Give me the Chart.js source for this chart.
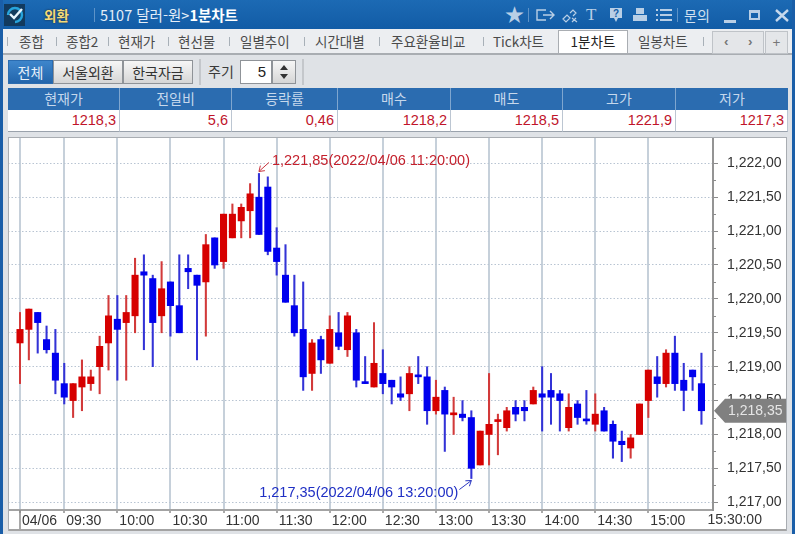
<!DOCTYPE html>
<html lang="ko">
<head>
<meta charset="utf-8">
<title>5107 달러-원 1분차트</title>
<script src="https://cdn.jsdelivr.net/npm/chart.js@4"></script>
<style>
  html, body { margin: 0; padding: 0; }
  body { width: 795px; height: 534px; overflow: hidden; position: relative; background: #dfe2e6;
         font-family: "Noto Sans CJK KR", sans-serif; font-size: 13.5px; color: #3a3a3a; }
  .abs { position: absolute; white-space: nowrap; }
  .frameL { left: 0; top: 0; width: 3px; height: 534px; background: #1a5ea8; }
  .frameR { left: 792px; top: 0; width: 3px; height: 534px; background: #1a5ea8; }
  .titlebar { left: 0; top: 0; width: 795px; height: 29px; background: linear-gradient(#1c6ab4, #125ca6); color: #fff; }
  .tabstrip { left: 3px; top: 29px; width: 789px; height: 25px; background: #eceef1; border-bottom: 2px solid #a9adb2; box-sizing: border-box; height: 26px; }
  .tab { top: 30px; line-height: 22px; color: #4a4a4a; }
  .sep { top: 37px; width: 1px; height: 9px; background: #a8b0b8; }
  .active { left: 558px; top: 30px; width: 70px; height: 23px; background: #fff; border: 1px solid #a9adb2; border-bottom: none; box-sizing: border-box; text-align: center; line-height: 21px; color: #222; }
  .btn { top: 60px; height: 24px; line-height: 22px; text-align: center; box-sizing: border-box; border: 1px solid #8f9398; background: linear-gradient(#f6f6f6, #d6d6d6); font-size: 14px; color: #333; }
  .vsep { top: 59px; width: 2px; height: 26px; background: #c4c7cb; }
  .hd { top: 88px; height: 22px; line-height: 21px; background: #2b6cb0; color: #c6d8ec; text-align: center; box-sizing: border-box; border-right: 1px solid #7fa6cf; font-size: 14px; }
  .val { top: 110px; height: 22px; line-height: 21px; background: #fff; color: #c0142a; text-align: right; padding-right: 3px; box-sizing: border-box; border-right: 1px solid #bcc6d2; border-bottom: 1px solid #9aa2ac;
         font-family: "Liberation Sans", sans-serif; font-size: 14.5px; }
  .ic { top: 4px; color: #b9cfe6; font-size: 15px; line-height: 22px; }
  #wrap { position: absolute; left: 8px; top: 137px; width: 779px; height: 394px; background: #fff; }
  #wrap canvas { display: block; }
</style>
</head>
<body>
<div class="abs titlebar"></div>
<svg class="abs" style="left:4px;top:4px" width="21" height="22">
  <rect x="0" y="0" width="21" height="22" fill="#123a5e"/>
  <path d="M4 11a7 7 0 1 1 7 7" fill="none" stroke="#27a4dc" stroke-width="2.4"/>
  <path d="M6 10l4 4 8-9" fill="none" stroke="#e6f4ff" stroke-width="2.4"/>
</svg>
<div class="abs" style="left:44px;top:4px;line-height:22px;font-weight:700;color:#f4dc7a;text-shadow:0 0 2px #222">외환</div>
<div class="abs" style="left:94px;top:8px;width:1px;height:14px;background:#5d93c8"></div>
<div class="abs" style="left:100px;top:4px;line-height:22px;color:#e4eef8;font-size:14.5px">5107 달러-원&gt;<b style="color:#fff">1분차트</b></div>
<div class="abs ic" style="left:505px;top:3px;font-size:19px">★</div>
<div class="abs" style="left:528px;top:8px;width:1px;height:14px;background:#5d93c8"></div>
<svg class="abs" style="left:535px;top:7px" width="22" height="16" fill="none" stroke="#b9cfe6" stroke-width="1.4">
  <path d="M11 3H2v10h9M8 8h11M15 4l4 4-4 4"/>
</svg>
<svg class="abs" style="left:561px;top:7px" width="18" height="16" fill="none" stroke="#b9cfe6" stroke-width="1.2">
  <path d="M2 12l4-4 3 3-4 4zM9 6l3-3 3 3-3 3M11 11l5 4M15 11l-4 4"/>
</svg>
<div class="abs ic" style="left:586px;font-family:'Liberation Serif',serif;font-size:17px">T</div>
<svg class="abs" style="left:608px;top:7px" width="16" height="17">
  <path d="M2 1h12v10H10l-2 4-2-4H2z" fill="#b9cfe6"/>
  <text x="8" y="10" font-size="10" font-weight="700" text-anchor="middle" fill="#125ca6" font-family="Liberation Sans">?</text>
</svg>
<svg class="abs" style="left:632px;top:7px" width="16" height="16" fill="#b9cfe6">
  <rect x="4" y="1" width="8" height="6"/><rect x="1" y="8" width="14" height="6"/>
</svg>
<svg class="abs" style="left:656px;top:8px" width="16" height="14" fill="#b9cfe6">
  <rect x="0" y="1" width="2" height="2"/><rect x="4" y="1" width="12" height="2"/>
  <rect x="0" y="6" width="2" height="2"/><rect x="4" y="6" width="12" height="2"/>
  <rect x="0" y="11" width="2" height="2"/><rect x="4" y="11" width="12" height="2"/>
</svg>
<div class="abs" style="left:677px;top:8px;width:1px;height:14px;background:#5d93c8"></div>
<div class="abs ic" style="left:684px;font-size:14px;color:#d2e1f0">문의</div>
<div class="abs" style="left:724px;top:20px;width:12px;height:3px;background:#b9cfe6"></div>
<div class="abs" style="left:749px;top:10px;width:11px;height:10px;border:2px solid #b9cfe6;border-top-width:3px;box-sizing:border-box"></div>
<svg class="abs" style="left:775px;top:9px" width="14" height="13" stroke="#c6d8ec" stroke-width="2.4"><path d="M1 1l12 11M13 1L1 12"/></svg>

<div class="abs tabstrip"></div>
<div class="abs sep" style="left:7px"></div><div class="abs tab" style="left:19px">종합</div>
<div class="abs sep" style="left:56px"></div><div class="abs tab" style="left:66px">종합2</div>
<div class="abs sep" style="left:108px"></div><div class="abs tab" style="left:118px">현재가</div>
<div class="abs sep" style="left:168px"></div><div class="abs tab" style="left:178px">현선물</div>
<div class="abs sep" style="left:229px"></div><div class="abs tab" style="left:240px">일별추이</div>
<div class="abs sep" style="left:304px"></div><div class="abs tab" style="left:315px">시간대별</div>
<div class="abs sep" style="left:379px"></div><div class="abs tab" style="left:391px">주요환율비교</div>
<div class="abs sep" style="left:483px"></div><div class="abs tab" style="left:493px">Tick차트</div>
<div class="abs active">1분차트</div>
<div class="abs tab" style="left:638px">일봉차트</div>
<div class="abs sep" style="left:703px"></div>
<div class="abs" style="left:712px;top:31px;width:52px;height:23px;box-sizing:border-box;border:1px solid #bfc3c8;background:#e4e6e9"></div>
<div class="abs" style="left:724px;top:31px;line-height:22px;color:#777;font-family:'Liberation Sans';font-weight:700">‹</div>
<div class="abs" style="left:748px;top:31px;line-height:22px;color:#777;font-family:'Liberation Sans';font-weight:700">›</div>
<div class="abs" style="left:765px;top:31px;width:23px;height:23px;box-sizing:border-box;border:1px solid #bfc3c8;background:#e4e6e9;text-align:center;line-height:21px;color:#777;font-family:'Liberation Sans'">+</div>

<div class="abs btn" style="left:8px;width:45px;background:linear-gradient(#3e86cc,#2265ab);color:#e8f1fa;border-color:#2b6cb0">전체</div>
<div class="abs btn" style="left:53px;width:70px">서울외환</div>
<div class="abs btn" style="left:123px;width:70px">한국자금</div>
<div class="abs vsep" style="left:199px"></div>
<div class="abs" style="left:208px;top:60px;line-height:23px;font-size:14px">주기</div>
<div class="abs" style="left:240px;top:60px;width:32px;height:24px;box-sizing:border-box;border:1px solid #8f9398;background:#fff;text-align:right;padding-right:5px;line-height:22px;font-family:'Liberation Sans';font-size:15px;color:#222">5</div>
<div class="abs btn" style="left:272px;width:24px;line-height:21px"></div>
<svg class="abs" style="left:278px;top:64px" width="12" height="16" fill="#333"><path d="M6 1l4 5H2zM2 10h8l-4 5z"/></svg>
<div class="abs vsep" style="left:302px"></div>

<div class="abs hd" style="left:8px;width:112px">현재가</div>
<div class="abs hd" style="left:120px;width:112px">전일비</div>
<div class="abs hd" style="left:232px;width:106px">등락률</div>
<div class="abs hd" style="left:338px;width:113px">매수</div>
<div class="abs hd" style="left:451px;width:112px">매도</div>
<div class="abs hd" style="left:563px;width:113px">고가</div>
<div class="abs hd" style="left:676px;width:112px;border-right:none">저가</div>
<div class="abs val" style="left:8px;width:112px">1218,3</div>
<div class="abs val" style="left:120px;width:112px">5,6</div>
<div class="abs val" style="left:232px;width:106px">0,46</div>
<div class="abs val" style="left:338px;width:113px">1218,2</div>
<div class="abs val" style="left:451px;width:112px">1218,5</div>
<div class="abs val" style="left:563px;width:113px">1221,9</div>
<div class="abs val" style="left:676px;width:112px">1217,3</div>

<div id="wrap"><canvas id="chart" width="779" height="394"></canvas></div>
<div class="abs frameL"></div>
<div class="abs frameR"></div>

<script>
// 5분봉 값, index 0 = 09:05
const opens = [1219.35,1219.55,1219.80,1219.40,1219.20,1218.75,1218.50,1218.70,1218.75,1219.00,
  1219.35,1219.70,1219.65,1219.75,1220.40,1220.30,1219.75,1220.25,1219.90,1220.45,
  1220.35,1220.25,1220.90,1220.55,1220.90,1221.15,1221.30,1221.50,1221.65,1220.75,
  1220.35,1219.90,1219.55,1218.90,1219.40,1219.05,1219.50,1219.25,1219.50,1218.76,
  1218.70,1218.90,1218.80,1218.60,1218.60,1218.86,1218.85,1218.35,1218.65,1218.29,
  1218.30,1218.25,1217.55,1218.00,1218.19,1218.10,1218.40,1218.40,1218.45,1218.60,
  1218.65,1218.60,1218.10,1218.45,1218.21,1218.15,1218.35,1218.15,1217.90,1217.80,
  1218.00,1218.50,1218.85,1218.75,1219.20,1218.80,1218.95,1218.75];
const highs = [1219.80,1219.85,1219.80,1219.60,1219.55,1219.05,1218.75,1219.10,1218.95,1219.45,
  1220.05,1220.05,1220.05,1220.60,1220.65,1220.35,1220.55,1220.25,1220.65,1220.65,
  1220.35,1220.95,1220.90,1221.25,1221.40,1221.40,1221.70,1221.85,1221.80,1221.05,
  1220.80,1220.35,1220.25,1219.40,1219.45,1219.75,1219.80,1219.80,1219.55,1219.15,
  1219.65,1219.25,1218.80,1218.85,1219.00,1219.15,1219.00,1218.80,1218.70,1218.55,
  1218.50,1218.35,1218.05,1218.90,1218.30,1218.40,1218.50,1218.50,1218.70,1219.00,
  1218.90,1218.65,1218.60,1218.50,1218.65,1218.60,1218.40,1218.20,1218.05,1218.00,
  1218.45,1218.95,1219.15,1219.25,1219.45,1219.05,1218.95,1219.20];
const lows = [1218.75,1219.10,1219.20,1219.20,1218.60,1218.45,1218.25,1218.35,1218.65,1218.60,
  1218.95,1218.80,1218.80,1219.50,1219.25,1219.00,1219.50,1219.45,1219.50,1220.15,
  1219.10,1219.45,1220.45,1220.45,1220.90,1220.90,1220.90,1220.95,1220.65,1220.35,
  1219.95,1219.45,1218.65,1218.65,1218.90,1219.05,1219.25,1219.15,1218.70,1218.75,
  1218.70,1218.60,1218.45,1218.50,1218.35,1218.75,1218.15,1218.30,1217.75,1218.00,
  1218.20,1217.35,1217.55,1217.55,1217.70,1218.05,1218.20,1218.20,1218.45,1218.05,
  1218.15,1218.05,1218.05,1218.15,1218.15,1218.05,1218.05,1217.65,1217.60,1217.65,
  1218.00,1218.25,1218.55,1218.70,1218.65,1218.35,1218.65,1218.15];
const closes = [1219.55,1219.85,1219.65,1219.25,1218.80,1218.55,1218.75,1218.85,1218.85,1219.30,
  1219.75,1219.55,1219.80,1220.35,1220.35,1219.65,1220.15,1219.90,1219.50,1220.40,
  1220.20,1220.80,1220.50,1221.25,1221.25,1221.35,1221.55,1220.95,1220.70,1220.55,
  1219.95,1219.50,1218.85,1219.35,1219.10,1219.55,1219.30,1219.75,1218.80,1218.75,
  1219.05,1218.75,1218.70,1218.55,1218.90,1218.85,1218.35,1218.55,1218.30,1218.30,
  1218.25,1217.50,1218.05,1218.15,1218.20,1218.35,1218.30,1218.35,1218.65,1218.55,
  1218.55,1218.50,1218.40,1218.25,1218.20,1218.30,1218.05,1217.90,1217.85,1217.95,
  1218.45,1218.95,1218.75,1219.20,1218.75,1218.65,1218.85,1218.35];

const timeTicks = [0, 5, 11, 17, 23, 29, 35, 41, 47, 53, 59, 65, 71];
const timeLabels = ['04/06', '09:30', '10:00', '10:30', '11:00', '11:30', '12:00', '12:30', '13:00', '13:30', '14:00', '14:30', '15:00'];
const lastTimeLabel = '15:30:00';
const priceTicks = [1222, 1221.5, 1221, 1220.5, 1220, 1219.5, 1219, 1218.5, 1218, 1217.5, 1217];
const priceLabels = ['1,222,00', '1,221,50', '1,221,00', '1,220,50', '1,220,00', '1,219,50', '1,219,00', '1,218,50', '1,218,00', '1,217,50', '1,217,00'];
const lastPrice = 1218.35, lastPriceLabel = '1,218,35';
const highIdx = 27, highLabel = '1,221,85(2022/04/06 11:20:00)';
const lowIdx = 51, lowLabel = '1,217,35(2022/04/06 13:20:00)';

const RED = '#d60000', BLUE = '#0000ee', WICK_RED = '#d23a3a', WICK_BLUE = '#3333d6';
const LABEL_FONT = '14px "Liberation Sans"';

const candleColor = (i, up, down) => closes[i] > opens[i] ? up : down;

// 축 라벨 때문에 생기는 여백 제거
const noPadding = s => { s.paddingTop = 0; s.paddingBottom = 0; s.paddingLeft = 0; s.paddingRight = 0; };

// 최고/최저 표시, 현재가 태그, 보조 눈금
const extras = {
  id: 'extras',
  afterDraw(chart) {
    const { ctx, scales: { x, y }, chartArea: area } = chart;
    ctx.save();

    // y 보조 눈금 (0.25)
    ctx.strokeStyle = '#8c8c8c';
    ctx.lineWidth = 1;
    priceTicks.slice(0, -1).forEach(v => {
      const py = Math.round(y.getPixelForValue(v - 0.25)) + 0.5;
      ctx.beginPath(); ctx.moveTo(area.right, py); ctx.lineTo(area.right + 3, py); ctx.stroke();
    });

    // 첫 날짜 구분선
    ctx.strokeStyle = '#8c8c8c';
    ctx.lineWidth = 1.5;
    const px0 = x.getPixelForValue(0);
    ctx.beginPath(); ctx.moveTo(px0, area.bottom); ctx.lineTo(px0, area.bottom + 20); ctx.stroke();

    // x축 아래선
    ctx.strokeStyle = '#a3a3a3';
    ctx.lineWidth = 2;
    ctx.beginPath(); ctx.moveTo(0, area.bottom + 20); ctx.lineTo(chart.width, area.bottom + 20); ctx.stroke();

    // 마지막 시각 라벨
    ctx.font = LABEL_FONT;
    ctx.fillStyle = '#333';
    ctx.textBaseline = 'middle';
    ctx.textAlign = 'left';
    ctx.fillText(lastTimeLabel, x.getPixelForValue(77) + 6, area.bottom + 10);

    const arrow = (fromX, fromY, tipX, tipY, color) => {
      const a = Math.atan2(tipY - fromY, tipX - fromX);
      ctx.strokeStyle = color;
      ctx.lineWidth = 1;
      ctx.beginPath();
      ctx.moveTo(fromX, fromY); ctx.lineTo(tipX, tipY);
      ctx.moveTo(tipX - 6 * Math.cos(a - 0.6), tipY - 6 * Math.sin(a - 0.6));
      ctx.lineTo(tipX, tipY);
      ctx.lineTo(tipX - 6 * Math.cos(a + 0.6), tipY - 6 * Math.sin(a + 0.6));
      ctx.stroke();
    };

    // 최고가
    const hx = x.getPixelForValue(highIdx), hy = y.getPixelForValue(highs[highIdx]);
    arrow(hx + 10, hy - 11, hx, hy - 2, '#c8323c');
    ctx.font = '14.5px "Liberation Sans"';
    ctx.fillStyle = '#c4202c';
    ctx.fillText(highLabel, hx + 13, hy - 12);

    // 최저가
    const lx = x.getPixelForValue(lowIdx), ly = y.getPixelForValue(lows[lowIdx]);
    arrow(lx - 12, ly + 11, lx, ly + 2, '#2a36c0');
    ctx.fillStyle = '#1f2fc4';
    ctx.textAlign = 'right';
    ctx.fillText(lowLabel, lx - 13, ly + 14);

    // 현재가 태그
    const ty = y.getPixelForValue(lastPrice);
    ctx.fillStyle = '#808080';
    ctx.beginPath();
    ctx.moveTo(area.right + 1, ty);
    ctx.lineTo(area.right + 12, ty - 12);
    ctx.lineTo(chart.width - 1, ty - 12);
    ctx.lineTo(chart.width - 1, ty + 12);
    ctx.lineTo(area.right + 12, ty + 12);
    ctx.closePath();
    ctx.fill();
    ctx.font = LABEL_FONT;
    ctx.fillStyle = '#e6e6e6';
    ctx.textAlign = 'left';
    ctx.fillText(lastPriceLabel, area.right + 15, ty);

    ctx.restore();
  }
};

new Chart(document.getElementById('chart'), {
  type: 'bar',
  plugins: [extras],
  data: {
    datasets: [
      {
        label: 'wick',
        data: opens.map((_, i) => ({ x: i, y: [lows[i], highs[i]] })),
        backgroundColor: opens.map((_, i) => candleColor(i, WICK_RED, WICK_BLUE)),
        barThickness: 1.4,
        grouped: false,
        order: 2
      },
      {
        label: 'body',
        data: opens.map((_, i) => ({ x: i, y: [opens[i], closes[i]] })),
        backgroundColor: opens.map((_, i) => candleColor(i, RED, BLUE)),
        barThickness: 6.4,
        minBarLength: 2,
        grouped: false,
        order: 1
      }
    ]
  },
  options: {
    responsive: false,
    animation: false,
    events: [],
    layout: { autoPadding: false, padding: { top: 1 } },
    plugins: { legend: { display: false }, tooltip: { enabled: false } },
    scales: {
      x: {
        type: 'linear',
        offset: false,
        min: -1.356,
        max: 78.305,
        afterFit: s => { s.height = 21; noPadding(s); },
        afterBuildTicks: s => { s.ticks = timeTicks.map(v => ({ value: v })); },
        grid: { offset: false, color: '#c6d0da', lineWidth: 2, tickColor: '#8c8c8c', tickLength: 3, tickWidth: 1.5 },
        border: { color: '#a3a3a3', width: 2 },
        ticks: {
          autoSkip: false, maxRotation: 0, align: 'start', padding: 0, labelOffset: 2,
          color: '#333', font: { family: 'Liberation Sans', size: 14 },
          callback: v => timeLabels[timeTicks.indexOf(v)]
        }
      },
      y: {
        position: 'right',
        min: 1216.886,
        max: 1222.373,
        afterFit: s => { s.width = 74; noPadding(s); },
        afterBuildTicks: s => { s.ticks = priceTicks.map(v => ({ value: v })); },
        grid: { color: '#b8c4d2', lineWidth: 1, tickColor: '#8c8c8c', tickLength: 5, tickWidth: 1 },
        border: { color: '#949494', width: 2, dash: [1.5, 2] },
        ticks: {
          padding: 9, color: '#333', font: { family: 'Liberation Sans', size: 14 },
          callback: v => priceLabels[priceTicks.indexOf(v)]
        }
      }
    }
  }
});
</script>
<div class="abs" style="left:8px;top:137px;width:779px;height:1px;background:#a9adb2"></div>
<div class="abs" style="left:8px;top:137px;width:1px;height:394px;background:#a9adb2"></div>
<div class="abs" style="left:786px;top:137px;width:1px;height:394px;background:#a9adb2"></div>
</body>
</html>
